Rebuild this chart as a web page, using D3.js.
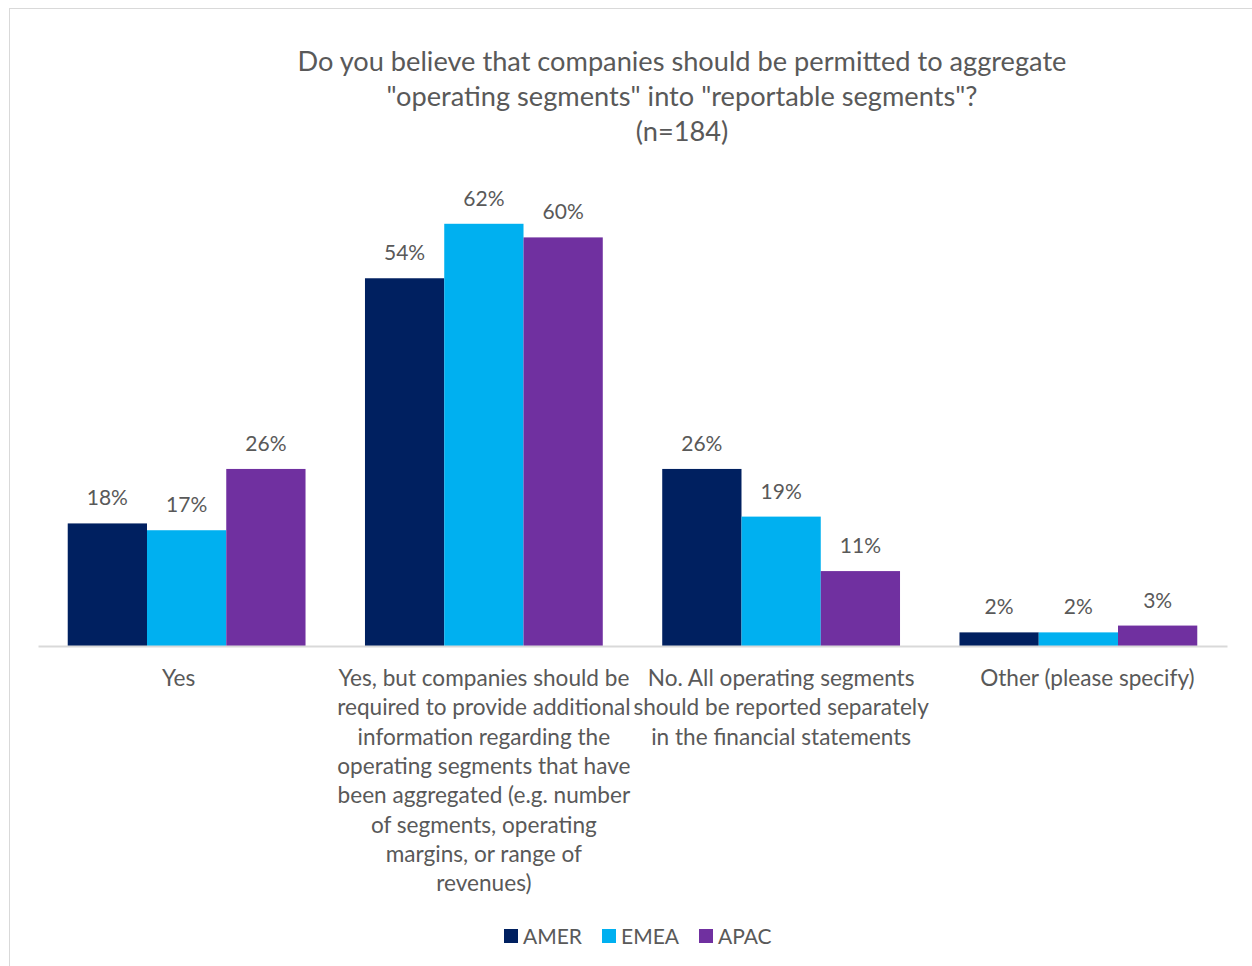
<!DOCTYPE html>
<html>
<head>
<meta charset="utf-8">
<script src="https://cdn.jsdelivr.net/npm/d3@7"></script>
<style>
  html, body { margin: 0; padding: 0; background: #fff; }
  svg text { font-family: Lato, "Open Sans", sans-serif; fill: #595959; }
</style>
</head>
<body>
<svg id="chart" width="1252" height="966"></svg>
<script>
// Survey responses by region (percent of respondents)
const categories = [
  "Yes",
  "Yes, but companies should be required to provide additional information",
  "No. All operating segments should be reported separately",
  "Other (please specify)"
];
// Category labels wrapped into lines as shown under the axis
const categoryLines = [
  ["Yes"],
  ["Yes, but companies should be", "required to provide additional", "information regarding the",
   "operating segments that have", "been aggregated (e.g. number", "of segments, operating",
   "margins, or range of", "revenues)"],
  ["No. All operating segments", "should be reported separately", "in the financial statements"],
  ["Other (please specify)"]
];
const seriesNames = ["AMER", "EMEA", "APAC"];
const seriesColors = ["#002060", "#00B0F0", "#7030A0"];
const amer = [18, 54, 26, 2];
const emea = [17, 62, 19, 2];
const apac = [26, 60, 11, 3];
const seriesValues = [amer, emea, apac];
const titleLines = [
  "Do you believe that companies should be permitted to aggregate",
  "\"operating segments\" into \"reportable segments\"?",
  "(n=184)"
];

const svg = d3.select("#chart");

// Outer chart frame
svg.append("rect")
  .attr("x", 9.5).attr("y", 8.5)
  .attr("width", 1260).attr("height", 980)
  .attr("fill", "none").attr("stroke", "#d9d9d9").attr("stroke-width", 1);

// Title
svg.append("g").selectAll("text")
  .data(titleLines).join("text")
  .attr("x", 682)
  .attr("y", (d, i) => 71 + i * 35)
  .attr("text-anchor", "middle")
  .attr("font-size", 27.2)
  .text(d => d);

const plotLeft = 38, plotRight = 1227, baseline = 646, plotTop = 169.3;

const x0 = d3.scaleBand().domain(d3.range(categories.length)).range([plotLeft, plotRight]).padding(0);
const x1 = d3.scaleBand().domain(seriesNames).range([0, x0.bandwidth()])
  .paddingInner(0).paddingOuter(0.375);
const y = d3.scaleLinear().domain([0, 70]).range([baseline, plotTop]);

const rows = categories.map((c, i) => ({
  index: i,
  values: seriesNames.map((s, k) => ({ series: s, color: seriesColors[k], value: seriesValues[k][i] }))
}));

const groups = svg.append("g").selectAll("g")
  .data(rows).join("g")
  .attr("transform", d => `translate(${x0(d.index)},0)`);

groups.selectAll("rect")
  .data(d => d.values).join("rect")
  .attr("x", d => x1(d.series))
  .attr("y", d => y(d.value))
  .attr("width", x1.bandwidth())
  .attr("height", d => y(0) - y(d.value))
  .attr("fill", d => d.color);

groups.selectAll("text.val")
  .data(d => d.values).join("text")
  .attr("class", "val")
  .attr("x", d => x1(d.series) + x1.bandwidth() / 2)
  .attr("y", d => y(d.value) - 18)
  .attr("text-anchor", "middle")
  .attr("font-size", 21)
  .text(d => d.value + "%");

// Category axis line
const axis = d3.axisBottom(x0).tickSize(0).tickSizeOuter(0).tickFormat("");
const axisG = svg.append("g").attr("transform", `translate(0,${baseline})`).call(axis);
axisG.select(".domain").attr("stroke", "#d9d9d9").attr("stroke-width", 2);

// Wrapped category labels (outer labels nudged toward the chart edges)
const labelNudge = [-8, 0, 0, 9];
const labels = svg.append("g").selectAll("text")
  .data(categoryLines).join("text")
  .attr("text-anchor", "middle")
  .attr("font-size", 22.6)
  .attr("transform", (d, i) => `translate(${x0(i) + x0.bandwidth() / 2 + labelNudge[i]},686)`);
labels.selectAll("tspan")
  .data(d => d).join("tspan")
  .attr("x", 0)
  .attr("y", (d, i) => i * 29.3)
  .text(d => d);

// Legend
const legendX = [504, 602, 699];
const legend = svg.append("g").selectAll("g")
  .data(seriesNames).join("g")
  .attr("transform", (d, i) => `translate(${legendX[i]},929)`);
legend.append("rect")
  .attr("width", 14).attr("height", 14)
  .attr("fill", (d, i) => seriesColors[i]);
legend.append("text")
  .attr("x", 19).attr("y", 14.5)
  .attr("font-size", 21)
  .text(d => d);
</script>
</body>
</html>
